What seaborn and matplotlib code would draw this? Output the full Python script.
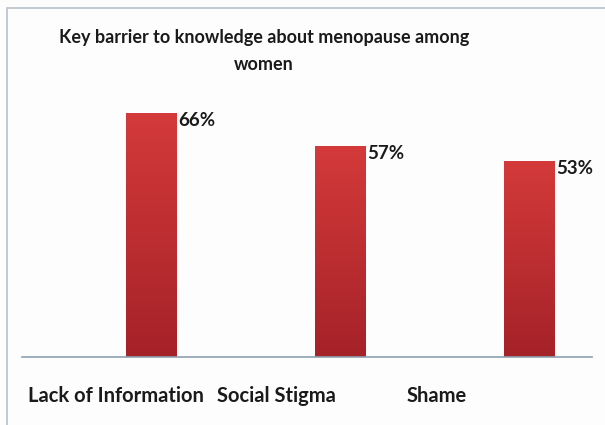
import numpy as np
import pandas as pd
import matplotlib
matplotlib.use('Agg')
import matplotlib.pyplot as plt
import seaborn as sns
from matplotlib.patches import Rectangle
from matplotlib.colors import LinearSegmentedColormap

# data
categories = ['Lack of Information', 'Social Stigma', 'Shame']
values = [66, 57, 53]
value_labels = ['66%', '57%', '53%']

df = pd.DataFrame({'barrier': categories, 'pct': values})

sns.set_style('white')
plt.rcParams['font.family'] = ['Lato', 'DejaVu Sans']

fig = plt.figure(figsize=(6.05, 4.25), dpi=100)
fig.patch.set_facecolor('#fdfdfe')

# outer frame of the chart
fig.add_artist(Rectangle((7 / 605, -0.01), 1.1, 1 - 8 / 425 + 0.01, transform=fig.transFigure,
                         fill=False, edgecolor='#b8c0c8', linewidth=1.2))

ax = fig.add_axes([22 / 605, (425 - 357) / 425, 570 / 605, 259 / 425])
ax.set_facecolor('none')

sns.barplot(data=df, x='barrier', y='pct', color='#c83030', width=0.265, ax=ax)

# gradient fill on the bars
cmap = LinearSegmentedColormap.from_list('redgrad', ['#a52228', '#d43a3a'])
grad = np.linspace(0, 1, 256).reshape(-1, 1)
for bar, lab in zip(ax.patches, value_labels):
    x0, w, h = bar.get_x(), bar.get_width(), bar.get_height()
    bar.set_alpha(0)
    im = ax.imshow(grad, cmap=cmap, origin='lower', aspect='auto',
                   extent=[x0, x0 + w, 0, h], zorder=2)
    im.set_clip_path(Rectangle((x0, 0), w, h, transform=ax.transData))
    ax.text(x0 + w + 0.01, h + 0.3, lab, ha='left', va='top', fontsize=13.5,
            fontweight='bold', color='#1a1a1a')
ax.set_xlim(-0.68, 2.33)
ax.set_ylim(0, 70)

sns.despine(ax=ax, left=True, top=True, right=True)
ax.spines['bottom'].set_color('#8ea0b0')
ax.spines['bottom'].set_linewidth(1.2)
ax.set_yticks([])
ax.set_ylabel('')
ax.set_xlabel('')

# category labels, left aligned under each bar group
ax.set_xticks(np.arange(len(categories)) - 0.65)
ax.set_xticklabels(categories, ha='left', fontsize=14.5, fontweight='bold', color='#1a1a1a')
ax.tick_params(axis='x', length=0, pad=21)

fig.text(264 / 605, 1 - 51 / 425, 'Key barrier to knowledge about menopause among\nwomen',
         ha='center', va='center', fontsize=13, fontweight='bold', color='#1a1a1a',
         linespacing=1.75)

fig.savefig('out.png', dpi=100, facecolor=fig.get_facecolor())
